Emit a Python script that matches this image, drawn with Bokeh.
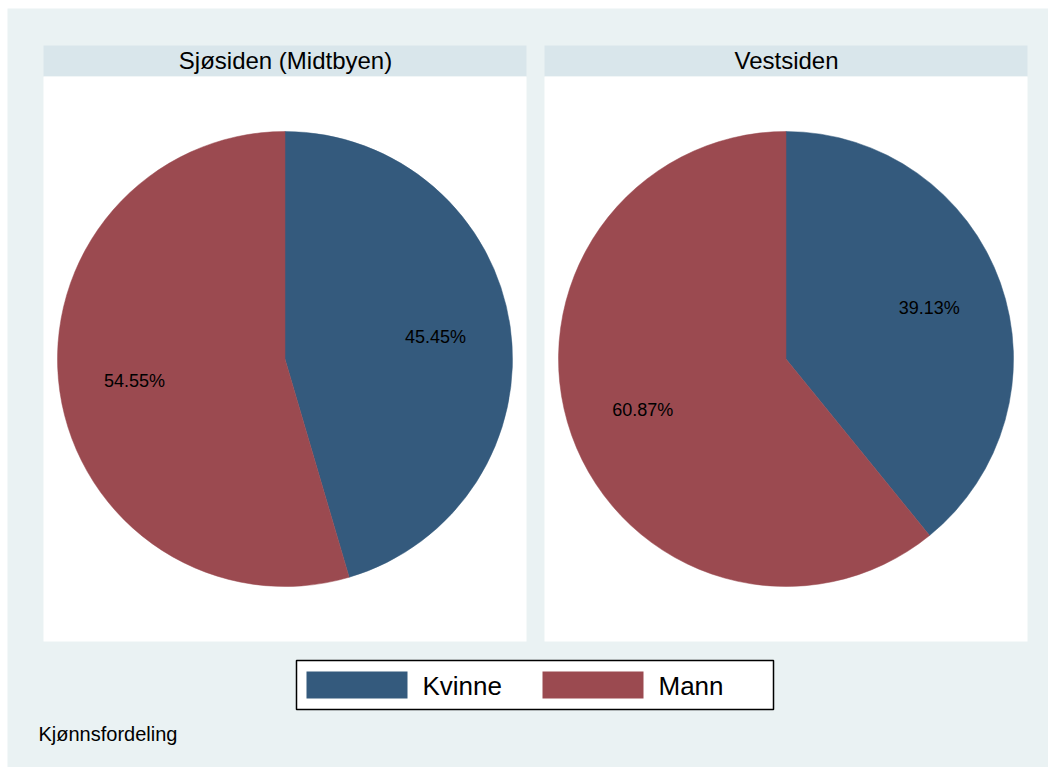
import math
from bokeh.plotting import figure
from bokeh.models import Range1d, ColumnDataSource
from bokeh.core.properties import value
from bokeh.embed import file_html
from bokeh.resources import INLINE

# ---- data ----
panels = ["Sjøsiden (Midtbyen)", "Vestsiden"]
categories = ["Kvinne", "Mann"]
kvinne_pct = [45.45, 39.13]
mann_pct = [54.55, 60.87]
footnote = "Kjønnsfordeling"
colors = {"Kvinne": "#345a7d", "Mann": "#9b4a50"}

W, H = 1048, 767
FONT = "Liberation Sans"

p = figure(width=W, height=H, x_range=Range1d(0, W), y_range=Range1d(0, H),
           output_backend="svg", toolbar_location=None, min_border=0)
p.axis.visible = False
p.grid.visible = False
p.outline_line_color = None
p.background_fill_color = "white"
p.border_fill_color = "white"


def Y(py):
    return H - py


# outer background
p.quad(left=[7], right=[W], top=[Y(8)], bottom=[Y(H)], fill_color="#eaf2f3", line_color=None)

panel_left = [43, 544]
panel_w = 483
R = 227.5
cy = 358.5

for i, name in enumerate(panels):
    L = panel_left[i]
    Rr = L + panel_w
    p.quad(left=[L], right=[Rr], top=[Y(45)], bottom=[Y(76)], fill_color="#d9e6eb", line_color=None)
    p.quad(left=[L], right=[Rr], top=[Y(76)], bottom=[Y(641)], fill_color="white", line_color=None)
    p.text(x=[(L + Rr) / 2 + 0.5], y=[Y(60)], text=[name], text_align="center", text_baseline="middle",
           text_font=value(FONT), text_font_size="24px", text_color="black")

    cx = L + 241.5
    vals = [kvinne_pct[i], mann_pct[i]]
    total = sum(vals)
    start = math.pi / 2
    for cat, v in zip(categories, vals):
        sweep = 2 * math.pi * v / total
        end = start - sweep
        src = ColumnDataSource(dict(x=[cx], y=[Y(cy)], s=[end], e=[start]))
        p.wedge(x="x", y="y", radius=R, start_angle="s", end_angle="e", source=src,
                fill_color=colors[cat], line_color=colors[cat], line_width=0.5)
        mid = (start + end) / 2
        lr = 0.668 * R
        p.text(x=[cx + lr * math.cos(mid)], y=[Y(cy) + lr * math.sin(mid)], text=[f"{v:.2f}%"],
               text_align="center", text_baseline="middle", text_font=value(FONT),
               text_font_size="18px", text_color="black")
        start = end

# legend
p.quad(left=[296], right=[773], top=[Y(660)], bottom=[Y(709)], fill_color="white",
       line_color="black", line_width=1.5)
sw_left = [306, 542]
for cat, sl in zip(categories, sw_left):
    p.quad(left=[sl], right=[sl + 101], top=[Y(671)], bottom=[Y(698)], fill_color=colors[cat], line_color=None)
    p.text(x=[sl + 116], y=[Y(685)], text=[cat], text_align="left", text_baseline="middle",
           text_font=value(FONT), text_font_size="26px", text_color="black")

p.text(x=[38], y=[Y(733)], text=[footnote], text_align="left", text_baseline="middle",
       text_font=value(FONT), text_font_size="20px", text_color="black")

open("out.html", "w").write(file_html(p, INLINE))
